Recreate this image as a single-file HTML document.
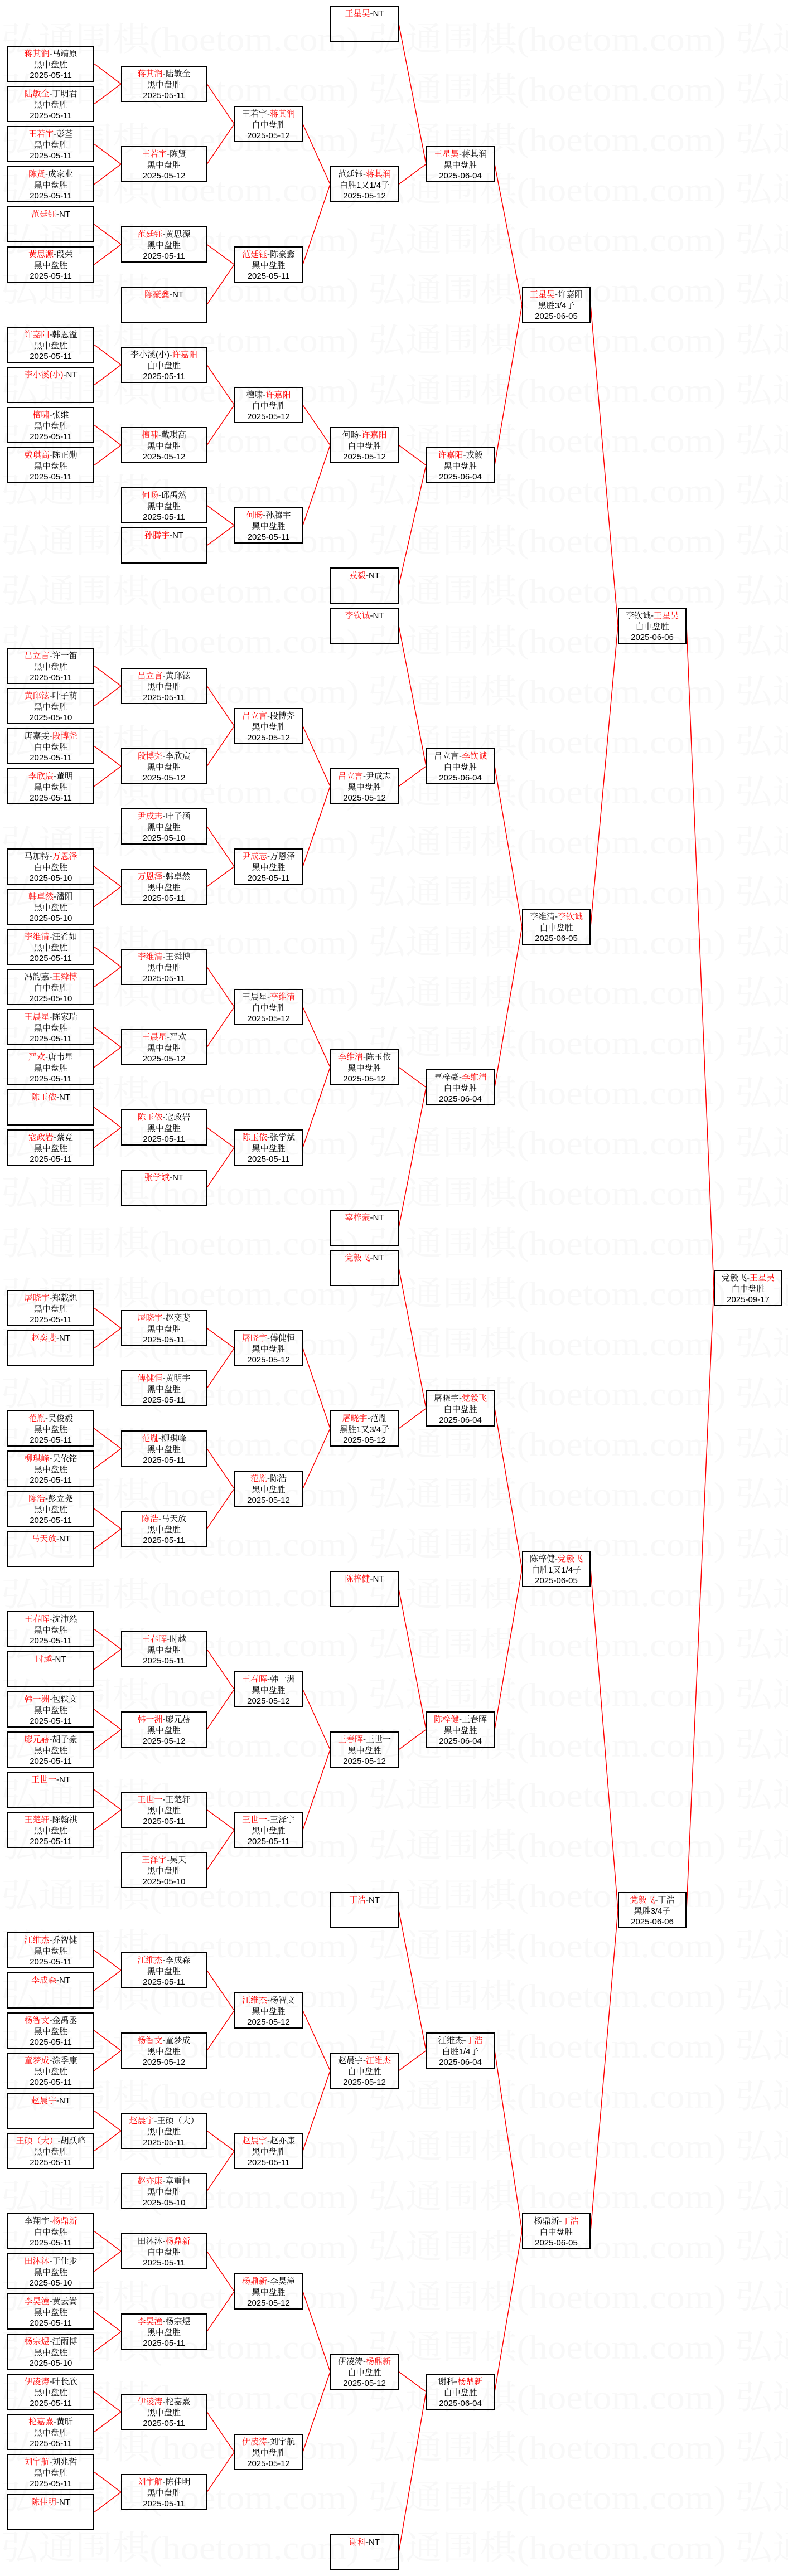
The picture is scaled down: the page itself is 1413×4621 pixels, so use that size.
<!DOCTYPE html>
<html><head><meta charset="utf-8">
<style>
html,body{margin:0;padding:0;background:#fff}
#w{position:relative;width:1413px;height:4621px;overflow:hidden;background:#fff}
svg{position:absolute;left:0;top:0}
.b{position:absolute;box-sizing:border-box;height:65px;border:2px solid #000;text-align:center;font-family:"Liberation Sans","Noto Serif CJK SC",serif;font-size:15px;line-height:19.5px;color:#000;padding-top:3px;white-space:nowrap;overflow:hidden}
.b i{font-style:normal;color:#f00}
.c1{left:13px;width:156px}.c2{left:217px;width:154px}.c3{left:420px;width:123px}.c4{left:592px;width:123px}
.c5{left:764px;width:123px}.c6{left:936px;width:123px}.c7{left:1108px;width:123px}.c8{left:1280px;width:123px}
</style></head><body><div id="w">
<svg width="1413" height="4621" viewBox="0 0 1413 4621">
<g fill="#f8f8f8" font-family="Liberation Serif, Noto Serif CJK SC, serif" font-size="60">
<text x="2" y="91" textLength="1958" lengthAdjust="spacingAndGlyphs">弘通围棋(hoetom.com) 弘通围棋(hoetom.com) 弘通围棋(hoetom.com)</text>
<text x="2" y="181" textLength="1958" lengthAdjust="spacingAndGlyphs">弘通围棋(hoetom.com) 弘通围棋(hoetom.com) 弘通围棋(hoetom.com)</text>
<text x="2" y="271" textLength="1958" lengthAdjust="spacingAndGlyphs">弘通围棋(hoetom.com) 弘通围棋(hoetom.com) 弘通围棋(hoetom.com)</text>
<text x="2" y="361" textLength="1958" lengthAdjust="spacingAndGlyphs">弘通围棋(hoetom.com) 弘通围棋(hoetom.com) 弘通围棋(hoetom.com)</text>
<text x="2" y="451" textLength="1958" lengthAdjust="spacingAndGlyphs">弘通围棋(hoetom.com) 弘通围棋(hoetom.com) 弘通围棋(hoetom.com)</text>
<text x="2" y="541" textLength="1958" lengthAdjust="spacingAndGlyphs">弘通围棋(hoetom.com) 弘通围棋(hoetom.com) 弘通围棋(hoetom.com)</text>
<text x="2" y="631" textLength="1958" lengthAdjust="spacingAndGlyphs">弘通围棋(hoetom.com) 弘通围棋(hoetom.com) 弘通围棋(hoetom.com)</text>
<text x="2" y="721" textLength="1958" lengthAdjust="spacingAndGlyphs">弘通围棋(hoetom.com) 弘通围棋(hoetom.com) 弘通围棋(hoetom.com)</text>
<text x="2" y="811" textLength="1958" lengthAdjust="spacingAndGlyphs">弘通围棋(hoetom.com) 弘通围棋(hoetom.com) 弘通围棋(hoetom.com)</text>
<text x="2" y="901" textLength="1958" lengthAdjust="spacingAndGlyphs">弘通围棋(hoetom.com) 弘通围棋(hoetom.com) 弘通围棋(hoetom.com)</text>
<text x="2" y="991" textLength="1958" lengthAdjust="spacingAndGlyphs">弘通围棋(hoetom.com) 弘通围棋(hoetom.com) 弘通围棋(hoetom.com)</text>
<text x="2" y="1081" textLength="1958" lengthAdjust="spacingAndGlyphs">弘通围棋(hoetom.com) 弘通围棋(hoetom.com) 弘通围棋(hoetom.com)</text>
<text x="2" y="1171" textLength="1958" lengthAdjust="spacingAndGlyphs">弘通围棋(hoetom.com) 弘通围棋(hoetom.com) 弘通围棋(hoetom.com)</text>
<text x="2" y="1261" textLength="1958" lengthAdjust="spacingAndGlyphs">弘通围棋(hoetom.com) 弘通围棋(hoetom.com) 弘通围棋(hoetom.com)</text>
<text x="2" y="1351" textLength="1958" lengthAdjust="spacingAndGlyphs">弘通围棋(hoetom.com) 弘通围棋(hoetom.com) 弘通围棋(hoetom.com)</text>
<text x="2" y="1441" textLength="1958" lengthAdjust="spacingAndGlyphs">弘通围棋(hoetom.com) 弘通围棋(hoetom.com) 弘通围棋(hoetom.com)</text>
<text x="2" y="1531" textLength="1958" lengthAdjust="spacingAndGlyphs">弘通围棋(hoetom.com) 弘通围棋(hoetom.com) 弘通围棋(hoetom.com)</text>
<text x="2" y="1621" textLength="1958" lengthAdjust="spacingAndGlyphs">弘通围棋(hoetom.com) 弘通围棋(hoetom.com) 弘通围棋(hoetom.com)</text>
<text x="2" y="1711" textLength="1958" lengthAdjust="spacingAndGlyphs">弘通围棋(hoetom.com) 弘通围棋(hoetom.com) 弘通围棋(hoetom.com)</text>
<text x="2" y="1801" textLength="1958" lengthAdjust="spacingAndGlyphs">弘通围棋(hoetom.com) 弘通围棋(hoetom.com) 弘通围棋(hoetom.com)</text>
<text x="2" y="1891" textLength="1958" lengthAdjust="spacingAndGlyphs">弘通围棋(hoetom.com) 弘通围棋(hoetom.com) 弘通围棋(hoetom.com)</text>
<text x="2" y="1981" textLength="1958" lengthAdjust="spacingAndGlyphs">弘通围棋(hoetom.com) 弘通围棋(hoetom.com) 弘通围棋(hoetom.com)</text>
<text x="2" y="2071" textLength="1958" lengthAdjust="spacingAndGlyphs">弘通围棋(hoetom.com) 弘通围棋(hoetom.com) 弘通围棋(hoetom.com)</text>
<text x="2" y="2161" textLength="1958" lengthAdjust="spacingAndGlyphs">弘通围棋(hoetom.com) 弘通围棋(hoetom.com) 弘通围棋(hoetom.com)</text>
<text x="2" y="2251" textLength="1958" lengthAdjust="spacingAndGlyphs">弘通围棋(hoetom.com) 弘通围棋(hoetom.com) 弘通围棋(hoetom.com)</text>
<text x="2" y="2341" textLength="1958" lengthAdjust="spacingAndGlyphs">弘通围棋(hoetom.com) 弘通围棋(hoetom.com) 弘通围棋(hoetom.com)</text>
<text x="2" y="2431" textLength="1958" lengthAdjust="spacingAndGlyphs">弘通围棋(hoetom.com) 弘通围棋(hoetom.com) 弘通围棋(hoetom.com)</text>
<text x="2" y="2521" textLength="1958" lengthAdjust="spacingAndGlyphs">弘通围棋(hoetom.com) 弘通围棋(hoetom.com) 弘通围棋(hoetom.com)</text>
<text x="2" y="2611" textLength="1958" lengthAdjust="spacingAndGlyphs">弘通围棋(hoetom.com) 弘通围棋(hoetom.com) 弘通围棋(hoetom.com)</text>
<text x="2" y="2701" textLength="1958" lengthAdjust="spacingAndGlyphs">弘通围棋(hoetom.com) 弘通围棋(hoetom.com) 弘通围棋(hoetom.com)</text>
<text x="2" y="2791" textLength="1958" lengthAdjust="spacingAndGlyphs">弘通围棋(hoetom.com) 弘通围棋(hoetom.com) 弘通围棋(hoetom.com)</text>
<text x="2" y="2881" textLength="1958" lengthAdjust="spacingAndGlyphs">弘通围棋(hoetom.com) 弘通围棋(hoetom.com) 弘通围棋(hoetom.com)</text>
<text x="2" y="2971" textLength="1958" lengthAdjust="spacingAndGlyphs">弘通围棋(hoetom.com) 弘通围棋(hoetom.com) 弘通围棋(hoetom.com)</text>
<text x="2" y="3061" textLength="1958" lengthAdjust="spacingAndGlyphs">弘通围棋(hoetom.com) 弘通围棋(hoetom.com) 弘通围棋(hoetom.com)</text>
<text x="2" y="3151" textLength="1958" lengthAdjust="spacingAndGlyphs">弘通围棋(hoetom.com) 弘通围棋(hoetom.com) 弘通围棋(hoetom.com)</text>
<text x="2" y="3241" textLength="1958" lengthAdjust="spacingAndGlyphs">弘通围棋(hoetom.com) 弘通围棋(hoetom.com) 弘通围棋(hoetom.com)</text>
<text x="2" y="3331" textLength="1958" lengthAdjust="spacingAndGlyphs">弘通围棋(hoetom.com) 弘通围棋(hoetom.com) 弘通围棋(hoetom.com)</text>
<text x="2" y="3421" textLength="1958" lengthAdjust="spacingAndGlyphs">弘通围棋(hoetom.com) 弘通围棋(hoetom.com) 弘通围棋(hoetom.com)</text>
<text x="2" y="3511" textLength="1958" lengthAdjust="spacingAndGlyphs">弘通围棋(hoetom.com) 弘通围棋(hoetom.com) 弘通围棋(hoetom.com)</text>
<text x="2" y="3601" textLength="1958" lengthAdjust="spacingAndGlyphs">弘通围棋(hoetom.com) 弘通围棋(hoetom.com) 弘通围棋(hoetom.com)</text>
<text x="2" y="3691" textLength="1958" lengthAdjust="spacingAndGlyphs">弘通围棋(hoetom.com) 弘通围棋(hoetom.com) 弘通围棋(hoetom.com)</text>
<text x="2" y="3781" textLength="1958" lengthAdjust="spacingAndGlyphs">弘通围棋(hoetom.com) 弘通围棋(hoetom.com) 弘通围棋(hoetom.com)</text>
<text x="2" y="3871" textLength="1958" lengthAdjust="spacingAndGlyphs">弘通围棋(hoetom.com) 弘通围棋(hoetom.com) 弘通围棋(hoetom.com)</text>
<text x="2" y="3961" textLength="1958" lengthAdjust="spacingAndGlyphs">弘通围棋(hoetom.com) 弘通围棋(hoetom.com) 弘通围棋(hoetom.com)</text>
<text x="2" y="4051" textLength="1958" lengthAdjust="spacingAndGlyphs">弘通围棋(hoetom.com) 弘通围棋(hoetom.com) 弘通围棋(hoetom.com)</text>
<text x="2" y="4141" textLength="1958" lengthAdjust="spacingAndGlyphs">弘通围棋(hoetom.com) 弘通围棋(hoetom.com) 弘通围棋(hoetom.com)</text>
<text x="2" y="4231" textLength="1958" lengthAdjust="spacingAndGlyphs">弘通围棋(hoetom.com) 弘通围棋(hoetom.com) 弘通围棋(hoetom.com)</text>
<text x="2" y="4321" textLength="1958" lengthAdjust="spacingAndGlyphs">弘通围棋(hoetom.com) 弘通围棋(hoetom.com) 弘通围棋(hoetom.com)</text>
<text x="2" y="4411" textLength="1958" lengthAdjust="spacingAndGlyphs">弘通围棋(hoetom.com) 弘通围棋(hoetom.com) 弘通围棋(hoetom.com)</text>
<text x="2" y="4501" textLength="1958" lengthAdjust="spacingAndGlyphs">弘通围棋(hoetom.com) 弘通围棋(hoetom.com) 弘通围棋(hoetom.com)</text>
<text x="2" y="4591" textLength="1958" lengthAdjust="spacingAndGlyphs">弘通围棋(hoetom.com) 弘通围棋(hoetom.com) 弘通围棋(hoetom.com)</text>
</g>
<g fill="none" stroke="#f00" stroke-width="1.5" stroke-linejoin="round">
<polyline points="169,114.5 217,150.5 169,186.5"/>
<polyline points="169,258.5 217,294.5 169,330.5"/>
<polyline points="169,402.5 217,438.5 169,474.5"/>
<polyline points="169,618.5 217,654.5 169,690.5"/>
<polyline points="169,762.5 217,798.5 169,834.5"/>
<polyline points="169,1194.5 217,1230.5 169,1266.5"/>
<polyline points="169,1338.5 217,1374.5 169,1410.5"/>
<polyline points="169,1554.5 217,1590.5 169,1626.5"/>
<polyline points="169,1698.5 217,1734.5 169,1770.5"/>
<polyline points="169,1842.5 217,1878.5 169,1914.5"/>
<polyline points="169,1986.5 217,2022.5 169,2058.5"/>
<polyline points="169,2346.5 217,2382.5 169,2418.5"/>
<polyline points="169,2562.5 217,2598.5 169,2634.5"/>
<polyline points="169,2706.5 217,2742.5 169,2778.5"/>
<polyline points="169,2922.5 217,2958.5 169,2994.5"/>
<polyline points="169,3066.5 217,3102.5 169,3138.5"/>
<polyline points="169,3210.5 217,3246.5 169,3282.5"/>
<polyline points="169,3498.5 217,3534.5 169,3570.5"/>
<polyline points="169,3642.5 217,3678.5 169,3714.5"/>
<polyline points="169,3786.5 217,3822.5 169,3858.5"/>
<polyline points="169,4002.5 217,4038.5 169,4074.5"/>
<polyline points="169,4146.5 217,4182.5 169,4218.5"/>
<polyline points="169,4290.5 217,4326.5 169,4362.5"/>
<polyline points="169,4434.5 217,4470.5 169,4506.5"/>
<polyline points="371,150.5 420,222.5 371,294.5"/>
<polyline points="371,438.5 420,474.5 371,546.5"/>
<polyline points="371,654.5 420,726.5 371,798.5"/>
<polyline points="371,906.5 420,942.5 371,978.5"/>
<polyline points="371,1230.5 420,1302.5 371,1374.5"/>
<polyline points="371,1482.5 420,1554.5 371,1590.5"/>
<polyline points="371,1734.5 420,1806.5 371,1878.5"/>
<polyline points="371,2022.5 420,2058.5 371,2130.5"/>
<polyline points="371,2382.5 420,2418.5 371,2490.5"/>
<polyline points="371,2598.5 420,2670.5 371,2742.5"/>
<polyline points="371,2958.5 420,3030.5 371,3102.5"/>
<polyline points="371,3246.5 420,3282.5 371,3354.5"/>
<polyline points="371,3534.5 420,3606.5 371,3678.5"/>
<polyline points="371,3822.5 420,3858.5 371,3930.5"/>
<polyline points="371,4038.5 420,4110.5 371,4182.5"/>
<polyline points="371,4326.5 420,4398.5 371,4470.5"/>
<polyline points="543,222.5 592,330.5 543,474.5"/>
<polyline points="543,726.5 592,798.5 543,942.5"/>
<polyline points="543,1302.5 592,1410.5 543,1554.5"/>
<polyline points="543,1806.5 592,1914.5 543,2058.5"/>
<polyline points="543,2418.5 592,2562.5 543,2670.5"/>
<polyline points="543,3030.5 592,3138.5 543,3282.5"/>
<polyline points="543,3606.5 592,3714.5 543,3858.5"/>
<polyline points="543,4110.5 592,4254.5 543,4398.5"/>
<polyline points="715,42.5 764,294.5 715,330.5"/>
<polyline points="715,798.5 764,834.5 715,1050.5"/>
<polyline points="715,1122.5 764,1374.5 715,1410.5"/>
<polyline points="715,1914.5 764,1950.5 715,2202.5"/>
<polyline points="715,2274.5 764,2526.5 715,2562.5"/>
<polyline points="715,2850.5 764,3102.5 715,3138.5"/>
<polyline points="715,3426.5 764,3678.5 715,3714.5"/>
<polyline points="715,4254.5 764,4290.5 715,4578.5"/>
<polyline points="887,294.5 936,546.5 887,834.5"/>
<polyline points="887,1374.5 936,1662.5 887,1950.5"/>
<polyline points="887,2526.5 936,2814.5 887,3102.5"/>
<polyline points="887,3678.5 936,4002.5 887,4290.5"/>
<polyline points="1059,546.5 1108,1122.5 1059,1662.5"/>
<polyline points="1059,2814.5 1108,3426.5 1059,4002.5"/>
<polyline points="1231,1122.5 1280,2310.5 1231,3426.5"/>
</g>
</svg>

<!-- Round 1 -->
<div class="b c1" style="top:82px"><i>蒋其润</i>-马靖原<br>黑中盘胜<br>2025-05-11</div>
<div class="b c1" style="top:154px"><i>陆敏全</i>-丁明君<br>黑中盘胜<br>2025-05-11</div>
<div class="b c1" style="top:226px"><i>王若宇</i>-彭荃<br>黑中盘胜<br>2025-05-11</div>
<div class="b c1" style="top:298px"><i>陈贤</i>-成家业<br>黑中盘胜<br>2025-05-11</div>
<div class="b c1" style="top:370px"><i>范廷钰</i>-NT</div>
<div class="b c1" style="top:442px"><i>黄思源</i>-段荣<br>黑中盘胜<br>2025-05-11</div>
<div class="b c1" style="top:586px"><i>许嘉阳</i>-韩恩溢<br>黑中盘胜<br>2025-05-11</div>
<div class="b c1" style="top:658px"><i>李小溪(小)</i>-NT</div>
<div class="b c1" style="top:730px"><i>檀啸</i>-张维<br>黑中盘胜<br>2025-05-11</div>
<div class="b c1" style="top:802px"><i>戴琪高</i>-陈正勋<br>黑中盘胜<br>2025-05-11</div>
<div class="b c1" style="top:1162px"><i>吕立言</i>-许一笛<br>黑中盘胜<br>2025-05-11</div>
<div class="b c1" style="top:1234px"><i>黄邱铉</i>-叶子萌<br>黑中盘胜<br>2025-05-10</div>
<div class="b c1" style="top:1306px">唐嘉雯-<i>段博尧</i><br>白中盘胜<br>2025-05-11</div>
<div class="b c1" style="top:1378px"><i>李欣宸</i>-董明<br>黑中盘胜<br>2025-05-11</div>
<div class="b c1" style="top:1522px">马加特-<i>万恩泽</i><br>白中盘胜<br>2025-05-10</div>
<div class="b c1" style="top:1594px"><i>韩卓然</i>-潘阳<br>黑中盘胜<br>2025-05-10</div>
<div class="b c1" style="top:1666px"><i>李维清</i>-汪希如<br>黑中盘胜<br>2025-05-11</div>
<div class="b c1" style="top:1738px">冯韵嘉-<i>王舜博</i><br>白中盘胜<br>2025-05-10</div>
<div class="b c1" style="top:1810px"><i>王晨星</i>-陈家瑞<br>黑中盘胜<br>2025-05-11</div>
<div class="b c1" style="top:1882px"><i>严欢</i>-唐韦星<br>黑中盘胜<br>2025-05-11</div>
<div class="b c1" style="top:1954px"><i>陈玉依</i>-NT</div>
<div class="b c1" style="top:2026px"><i>寇政岩</i>-蔡竞<br>黑中盘胜<br>2025-05-11</div>
<div class="b c1" style="top:2314px"><i>屠晓宇</i>-郑载想<br>黑中盘胜<br>2025-05-11</div>
<div class="b c1" style="top:2386px"><i>赵奕斐</i>-NT</div>
<div class="b c1" style="top:2530px"><i>范胤</i>-吴俊毅<br>黑中盘胜<br>2025-05-11</div>
<div class="b c1" style="top:2602px"><i>柳琪峰</i>-吴依铭<br>黑中盘胜<br>2025-05-11</div>
<div class="b c1" style="top:2674px"><i>陈浩</i>-彭立尧<br>黑中盘胜<br>2025-05-11</div>
<div class="b c1" style="top:2746px"><i>马天放</i>-NT</div>
<div class="b c1" style="top:2890px"><i>王春晖</i>-沈沛然<br>黑中盘胜<br>2025-05-11</div>
<div class="b c1" style="top:2962px"><i>时越</i>-NT</div>
<div class="b c1" style="top:3034px"><i>韩一洲</i>-包轶文<br>黑中盘胜<br>2025-05-11</div>
<div class="b c1" style="top:3106px"><i>廖元赫</i>-胡子豪<br>黑中盘胜<br>2025-05-11</div>
<div class="b c1" style="top:3178px"><i>王世一</i>-NT</div>
<div class="b c1" style="top:3250px"><i>王楚轩</i>-陈翰祺<br>黑中盘胜<br>2025-05-11</div>
<div class="b c1" style="top:3466px"><i>江维杰</i>-乔智健<br>黑中盘胜<br>2025-05-11</div>
<div class="b c1" style="top:3538px"><i>李成森</i>-NT</div>
<div class="b c1" style="top:3610px"><i>杨智文</i>-金禹丞<br>黑中盘胜<br>2025-05-11</div>
<div class="b c1" style="top:3682px"><i>童梦成</i>-涂季康<br>黑中盘胜<br>2025-05-11</div>
<div class="b c1" style="top:3754px"><i>赵晨宇</i>-NT</div>
<div class="b c1" style="top:3826px"><i>王硕（大）</i>-胡跃峰<br>黑中盘胜<br>2025-05-11</div>
<div class="b c1" style="top:3970px">李翔宇-<i>杨鼎新</i><br>白中盘胜<br>2025-05-11</div>
<div class="b c1" style="top:4042px"><i>田沐沐</i>-于佳步<br>黑中盘胜<br>2025-05-10</div>
<div class="b c1" style="top:4114px"><i>李昊潼</i>-黄云嵩<br>黑中盘胜<br>2025-05-11</div>
<div class="b c1" style="top:4186px"><i>杨宗煜</i>-汪雨博<br>黑中盘胜<br>2025-05-10</div>
<div class="b c1" style="top:4258px"><i>伊凌涛</i>-叶长欣<br>黑中盘胜<br>2025-05-11</div>
<div class="b c1" style="top:4330px"><i>柁嘉熹</i>-黄昕<br>黑中盘胜<br>2025-05-11</div>
<div class="b c1" style="top:4402px"><i>刘宇航</i>-刘兆哲<br>黑中盘胜<br>2025-05-11</div>
<div class="b c1" style="top:4474px"><i>陈佳明</i>-NT</div>

<!-- Round 2 -->
<div class="b c2" style="top:118px"><i>蒋其润</i>-陆敏全<br>黑中盘胜<br>2025-05-11</div>
<div class="b c2" style="top:262px"><i>王若宇</i>-陈贤<br>黑中盘胜<br>2025-05-12</div>
<div class="b c2" style="top:406px"><i>范廷钰</i>-黄思源<br>黑中盘胜<br>2025-05-11</div>
<div class="b c2" style="top:514px"><i>陈豪鑫</i>-NT</div>
<div class="b c2" style="top:622px">李小溪(小)-<i>许嘉阳</i><br>白中盘胜<br>2025-05-11</div>
<div class="b c2" style="top:766px"><i>檀啸</i>-戴琪高<br>黑中盘胜<br>2025-05-12</div>
<div class="b c2" style="top:874px"><i>何旸</i>-邱禹然<br>黑中盘胜<br>2025-05-11</div>
<div class="b c2" style="top:946px"><i>孙腾宇</i>-NT</div>
<div class="b c2" style="top:1198px"><i>吕立言</i>-黄邱铉<br>黑中盘胜<br>2025-05-11</div>
<div class="b c2" style="top:1342px"><i>段博尧</i>-李欣宸<br>黑中盘胜<br>2025-05-12</div>
<div class="b c2" style="top:1450px"><i>尹成志</i>-叶子涵<br>黑中盘胜<br>2025-05-10</div>
<div class="b c2" style="top:1558px"><i>万恩泽</i>-韩卓然<br>黑中盘胜<br>2025-05-11</div>
<div class="b c2" style="top:1702px"><i>李维清</i>-王舜博<br>黑中盘胜<br>2025-05-11</div>
<div class="b c2" style="top:1846px"><i>王晨星</i>-严欢<br>黑中盘胜<br>2025-05-12</div>
<div class="b c2" style="top:1990px"><i>陈玉依</i>-寇政岩<br>黑中盘胜<br>2025-05-11</div>
<div class="b c2" style="top:2098px"><i>张学斌</i>-NT</div>
<div class="b c2" style="top:2350px"><i>屠晓宇</i>-赵奕斐<br>黑中盘胜<br>2025-05-11</div>
<div class="b c2" style="top:2458px"><i>傅健恒</i>-黄明宇<br>黑中盘胜<br>2025-05-11</div>
<div class="b c2" style="top:2566px"><i>范胤</i>-柳琪峰<br>黑中盘胜<br>2025-05-11</div>
<div class="b c2" style="top:2710px"><i>陈浩</i>-马天放<br>黑中盘胜<br>2025-05-11</div>
<div class="b c2" style="top:2926px"><i>王春晖</i>-时越<br>黑中盘胜<br>2025-05-11</div>
<div class="b c2" style="top:3070px"><i>韩一洲</i>-廖元赫<br>黑中盘胜<br>2025-05-12</div>
<div class="b c2" style="top:3214px"><i>王世一</i>-王楚轩<br>黑中盘胜<br>2025-05-11</div>
<div class="b c2" style="top:3322px"><i>王泽宇</i>-吴天<br>黑中盘胜<br>2025-05-10</div>
<div class="b c2" style="top:3502px"><i>江维杰</i>-李成森<br>黑中盘胜<br>2025-05-11</div>
<div class="b c2" style="top:3646px"><i>杨智文</i>-童梦成<br>黑中盘胜<br>2025-05-12</div>
<div class="b c2" style="top:3790px"><i>赵晨宇</i>-王硕（大）<br>黑中盘胜<br>2025-05-11</div>
<div class="b c2" style="top:3898px"><i>赵亦康</i>-章重恒<br>黑中盘胜<br>2025-05-10</div>
<div class="b c2" style="top:4006px">田沐沐-<i>杨鼎新</i><br>白中盘胜<br>2025-05-11</div>
<div class="b c2" style="top:4150px"><i>李昊潼</i>-杨宗煜<br>黑中盘胜<br>2025-05-11</div>
<div class="b c2" style="top:4294px"><i>伊凌涛</i>-柁嘉熹<br>黑中盘胜<br>2025-05-11</div>
<div class="b c2" style="top:4438px"><i>刘宇航</i>-陈佳明<br>黑中盘胜<br>2025-05-11</div>

<!-- Round 3 -->
<div class="b c3" style="top:190px">王若宇-<i>蒋其润</i><br>白中盘胜<br>2025-05-12</div>
<div class="b c3" style="top:442px"><i>范廷钰</i>-陈豪鑫<br>黑中盘胜<br>2025-05-11</div>
<div class="b c3" style="top:694px">檀啸-<i>许嘉阳</i><br>白中盘胜<br>2025-05-12</div>
<div class="b c3" style="top:910px"><i>何旸</i>-孙腾宇<br>黑中盘胜<br>2025-05-11</div>
<div class="b c3" style="top:1270px"><i>吕立言</i>-段博尧<br>黑中盘胜<br>2025-05-12</div>
<div class="b c3" style="top:1522px"><i>尹成志</i>-万恩泽<br>黑中盘胜<br>2025-05-11</div>
<div class="b c3" style="top:1774px">王晨星-<i>李维清</i><br>白中盘胜<br>2025-05-12</div>
<div class="b c3" style="top:2026px"><i>陈玉依</i>-张学斌<br>黑中盘胜<br>2025-05-11</div>
<div class="b c3" style="top:2386px"><i>屠晓宇</i>-傅健恒<br>黑中盘胜<br>2025-05-12</div>
<div class="b c3" style="top:2638px"><i>范胤</i>-陈浩<br>黑中盘胜<br>2025-05-12</div>
<div class="b c3" style="top:2998px"><i>王春晖</i>-韩一洲<br>黑中盘胜<br>2025-05-12</div>
<div class="b c3" style="top:3250px"><i>王世一</i>-王泽宇<br>黑中盘胜<br>2025-05-11</div>
<div class="b c3" style="top:3574px"><i>江维杰</i>-杨智文<br>黑中盘胜<br>2025-05-12</div>
<div class="b c3" style="top:3826px"><i>赵晨宇</i>-赵亦康<br>黑中盘胜<br>2025-05-11</div>
<div class="b c3" style="top:4078px"><i>杨鼎新</i>-李昊潼<br>黑中盘胜<br>2025-05-12</div>
<div class="b c3" style="top:4366px"><i>伊凌涛</i>-刘宇航<br>黑中盘胜<br>2025-05-12</div>

<!-- Round 4 -->
<div class="b c4" style="top:10px"><i>王星昊</i>-NT</div>
<div class="b c4" style="top:298px">范廷钰-<i>蒋其润</i><br>白胜1又1/4子<br>2025-05-12</div>
<div class="b c4" style="top:766px">何旸-<i>许嘉阳</i><br>白中盘胜<br>2025-05-12</div>
<div class="b c4" style="top:1018px"><i>戎毅</i>-NT</div>
<div class="b c4" style="top:1090px"><i>李钦诚</i>-NT</div>
<div class="b c4" style="top:1378px"><i>吕立言</i>-尹成志<br>黑中盘胜<br>2025-05-12</div>
<div class="b c4" style="top:1882px"><i>李维清</i>-陈玉依<br>黑中盘胜<br>2025-05-12</div>
<div class="b c4" style="top:2170px"><i>辜梓豪</i>-NT</div>
<div class="b c4" style="top:2242px"><i>党毅飞</i>-NT</div>
<div class="b c4" style="top:2530px"><i>屠晓宇</i>-范胤<br>黑胜1又3/4子<br>2025-05-12</div>
<div class="b c4" style="top:2818px"><i>陈梓健</i>-NT</div>
<div class="b c4" style="top:3106px"><i>王春晖</i>-王世一<br>黑中盘胜<br>2025-05-12</div>
<div class="b c4" style="top:3394px"><i>丁浩</i>-NT</div>
<div class="b c4" style="top:3682px">赵晨宇-<i>江维杰</i><br>白中盘胜<br>2025-05-12</div>
<div class="b c4" style="top:4222px">伊凌涛-<i>杨鼎新</i><br>白中盘胜<br>2025-05-12</div>
<div class="b c4" style="top:4546px"><i>谢科</i>-NT</div>

<!-- Round 5 -->
<div class="b c5" style="top:262px"><i>王星昊</i>-蒋其润<br>黑中盘胜<br>2025-06-04</div>
<div class="b c5" style="top:802px"><i>许嘉阳</i>-戎毅<br>黑中盘胜<br>2025-06-04</div>
<div class="b c5" style="top:1342px">吕立言-<i>李钦诚</i><br>白中盘胜<br>2025-06-04</div>
<div class="b c5" style="top:1918px">辜梓豪-<i>李维清</i><br>白中盘胜<br>2025-06-04</div>
<div class="b c5" style="top:2494px">屠晓宇-<i>党毅飞</i><br>白中盘胜<br>2025-06-04</div>
<div class="b c5" style="top:3070px"><i>陈梓健</i>-王春晖<br>黑中盘胜<br>2025-06-04</div>
<div class="b c5" style="top:3646px">江维杰-<i>丁浩</i><br>白胜1/4子<br>2025-06-04</div>
<div class="b c5" style="top:4258px">谢科-<i>杨鼎新</i><br>白中盘胜<br>2025-06-04</div>

<!-- Round 6 -->
<div class="b c6" style="top:514px"><i>王星昊</i>-许嘉阳<br>黑胜3/4子<br>2025-06-05</div>
<div class="b c6" style="top:1630px">李维清-<i>李钦诚</i><br>白中盘胜<br>2025-06-05</div>
<div class="b c6" style="top:2782px">陈梓健-<i>党毅飞</i><br>白胜1又1/4子<br>2025-06-05</div>
<div class="b c6" style="top:3970px">杨鼎新-<i>丁浩</i><br>白中盘胜<br>2025-06-05</div>

<!-- Round 7 -->
<div class="b c7" style="top:1090px">李钦诚-<i>王星昊</i><br>白中盘胜<br>2025-06-06</div>
<div class="b c7" style="top:3394px"><i>党毅飞</i>-丁浩<br>黑胜3/4子<br>2025-06-06</div>

<!-- Final -->
<div class="b c8" style="top:2278px">党毅飞-<i>王星昊</i><br>白中盘胜<br>2025-09-17</div>
</div></body></html>
